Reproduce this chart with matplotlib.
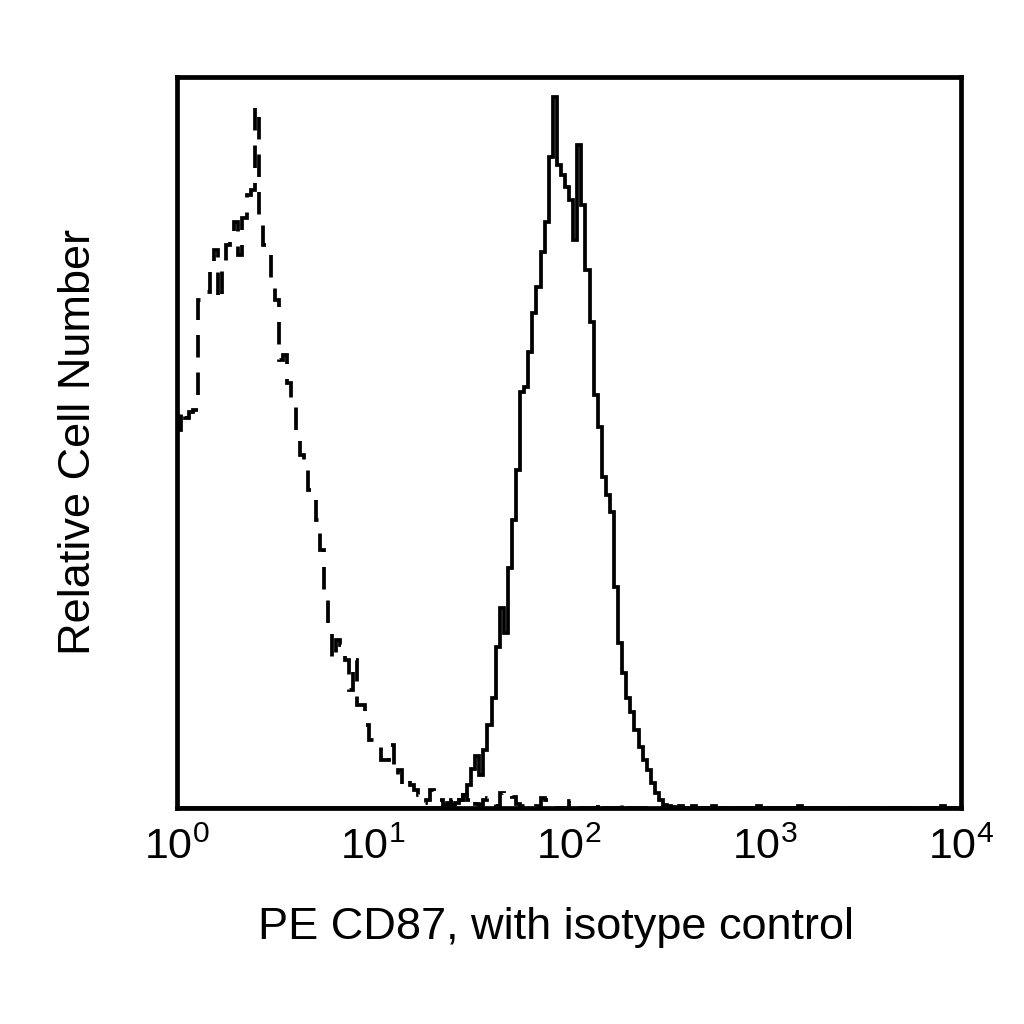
import numpy as np
import matplotlib
matplotlib.use('Agg')
import matplotlib.pyplot as plt

plt.rcParams['font.family'] = ['Liberation Sans', 'DejaVu Sans']
plt.rcParams['mathtext.fontset'] = 'custom'
plt.rcParams['mathtext.rm'] = 'Liberation Sans'
plt.rcParams['mathtext.it'] = 'Liberation Sans'

# 192 log-spaced channels over 4 decades
n_bins = 192
decades = 4

# CD87 stained sample (solid), channel 66 onwards
cd87_start = 66
cd87_counts = [0.3, 0.4, 0.7, 1.1, 1.8, 3.1, 5.3, 7.1, 4.5, 7.9,
               11.4, 15.0, 22.0, 27.4, 23.9, 32.8, 39.4, 46.2, 56.9, 57.6,
               62.4, 67.7, 71.3, 76.1, 80.2, 89.1, 97.3, 88.0, 86.6, 85.0,
               83.2, 77.7, 90.7, 82.5, 73.6, 66.5, 56.5, 52.1, 45.3, 42.8,
               40.5, 30.2, 22.6, 18.5, 15.0, 13.1, 10.7, 8.3, 6.6, 5.2,
               3.4, 2.1, 1.1, 0.4, 0.3, 0.1]
# scattered single events far right
cd87_tail_ch = [123, 126, 131, 142, 152, 187]
cd87_tail = [0.2, 0.2, 0.2, 0.2, 0.2, 0.3]

# isotype control (dashed), channel 0 onwards
iso_counts = [51.7, 54.4, 53.4, 54.2, 54.4, 69.5, 69.5, 70.6, 73.6, 76.3,
              69.5, 74.3, 77.0, 78.1, 80.2, 75.6, 80.7, 83.9, 84.5, 95.9,
              81.1, 77.0, 75.6, 71.5, 69.5, 61.3, 62.0, 58.1, 55.8, 51.3,
              48.3, 46.2, 43.5, 42.8, 39.4, 35.3, 29.8, 24.4, 20.2, 23.0,
              22.3, 20.2, 16.1, 20.2, 14.1, 14.1, 11.4, 9.3, 9.3, 8.6,
              6.6, 6.6, 8.6, 4.5, 5.2, 3.1, 3.8, 3.1, 2.5, 1.8,
              0.7, 1.1, 2.5, 1.8, 1.1, 0.4, 0.7, 1.1, 0.4, 1.1,
              1.8, 1.1, 1.6, 0.5, 0.4, 1.1, 1.4, 1.1, 0.3, 2.1,
              1.8, 2.1, 1.5, 0.5, 0.3, 0.3, 0.4, 0.1, 0.3, 1.4,
              1.1, 0.3]
iso_tail_ch = [96, 103, 109]
iso_tail = [1.0, 1.0, 1.0]

tick_vals = [1, 10, 100, 1000, 10000]
tick_labels = ['$10^0$', '$10^1$', '$10^2$', '$10^3$', '$10^4$']

edges = np.logspace(0, decades, n_bins + 1)

cd87 = np.zeros(n_bins)
cd87[cd87_start:cd87_start + len(cd87_counts)] = cd87_counts
cd87[cd87_tail_ch] = cd87_tail

iso = np.zeros(n_bins)
iso[:len(iso_counts)] = iso_counts
iso[iso_tail_ch] = iso_tail

fig = plt.figure(figsize=(10.24, 10.24), dpi=100)
ax = fig.add_axes([0.173, 0.211, 0.7656, 0.7139])

ax.stairs(iso, edges, color='black', linewidth=2.7, linestyle=(0, (6, 4)))
ax.stairs(cd87, edges, color='black', linewidth=2.7)

ax.set_xscale('log')
ax.set_xlim(1, 10000)
ax.set_ylim(0, 100)
ax.set_xticks(tick_vals)
ax.set_xticklabels(tick_labels)
ax.minorticks_off()
ax.set_yticks([])
ax.tick_params(axis='x', length=0, pad=14, labelsize=31)

for s in ax.spines.values():
    s.set_linewidth(3.4)

ax.set_xlabel('PE CD87, with isotype control', fontsize=32.5)
ax.xaxis.set_label_coords(0.483, -0.135)
ax.set_ylabel('Relative Cell Number', fontsize=32.5)
ax.yaxis.set_label_coords(-0.1, 0.5)

plt.savefig('out.png', dpi=100)
